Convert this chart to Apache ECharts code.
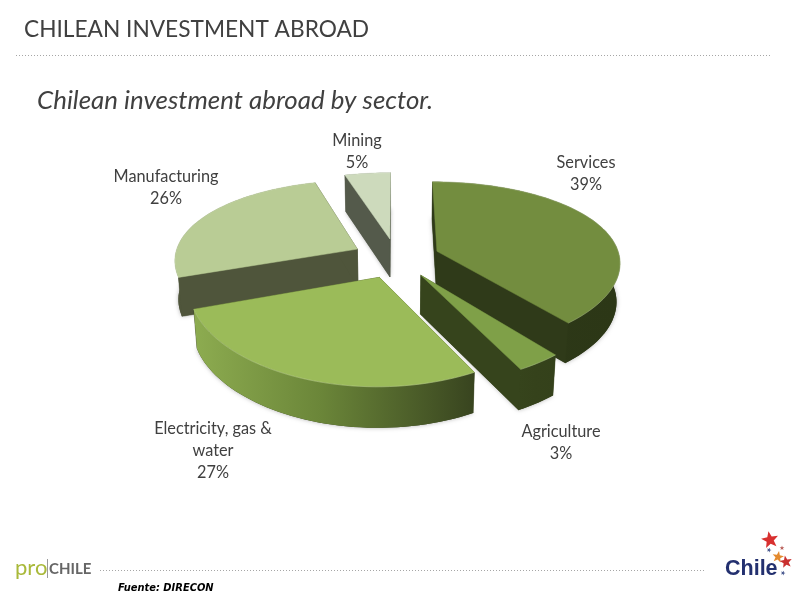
<!DOCTYPE html>
<html>
<head>
<meta charset="utf-8">
<style>html,body{margin:0;padding:0;background:#fff}#c{width:800px;height:600px}</style>
<script src="https://cdn.jsdelivr.net/npm/echarts@6/dist/echarts.min.js"></script>
</head>
<body>
<div id="c"></div>
<script>
// ---- data ----
const categories = ['Services', 'Agriculture', 'Electricity, gas & water', 'Manufacturing', 'Mining'];
const shares = [39.0, 3.4, 27.2, 25.8, 4.6];
const labelLines = ['Services', 'Agriculture', 'Electricity, gas &\nwater', 'Manufacturing', 'Mining'];
const titleText = 'CHILEAN INVESTMENT ABROAD';
const subtitleText = 'Chilean investment abroad by sector.';
const sourceText = 'Fuente: DIRECON';

// ---- styles ----
const topColors = ['#738d3f', '#7fa048', '#9bbb59', '#b9cc95', '#cddabc'];
const faceColors = ['#2f3a19', '#36441c', '#38431f', '#4f553b', '#545a4b'];
const rimColors = [
  ['#2f3a19', '#2d3818', '#2c3716'],
  ['#36441c', '#35421b', '#34411b'],
  ['#8dac50', '#6b8639', '#38441f'],
  ['#4f553b', '#4f553b', '#4f553b'],
  ['#545a4b', '#545a4b', '#545a4b']
];
const labelAnchors = [[586, 174], [561, 443], [213, 451], [166, 188], [357, 152]];

// ---- projection of the tilted pie ----
const cx = 396, cy = 258, R = 183, A = 83.4, P = 0.17, PX = 0.12, PZ = 0.05, DEPTH = 38.5, EXPLODE = 0.24, CONVERGE = 0.016;
const rad = d => d * Math.PI / 180;
function proj(x, y, z) {
  const d = 1 - P * y;
  return [cx + (R * x / (1 - PX * y)) * (1 - CONVERGE * z), cy + A * y / d + DEPTH * z / (1 - PZ * y)];
}
const total = shares.reduce((a, b) => a + b, 0);

function renderSlice(params, api) {
  const i = params.dataIndex, v = api.value(0);
  let before = 0;
  for (let k = 0; k < i; k++) before += shares[k];
  const a0 = before / total * 360, a1 = a0 + v / total * 360, mid = (a0 + a1) / 2;
  const ox = EXPLODE * Math.sin(rad(mid)), oy = -EXPLODE * Math.cos(rad(mid));
  const pt = (deg, z) => proj(ox + Math.sin(rad(deg)), oy - Math.cos(rad(deg)), z);
  const apex = z => proj(ox, oy, z);
  const arcTop = [], arcBot = [];
  const n = Math.max(4, Math.ceil((a1 - a0) / 2));
  for (let k = 0; k <= n; k++) {
    const t = a0 + (a1 - a0) * k / n;
    arcTop.push(pt(t, 0));
    arcBot.push(pt(t, 1));
  }
  const xs = arcTop.concat(arcBot).map(p => p[0]);
  const x0 = Math.min.apply(null, xs), x1 = Math.max.apply(null, xs);
  const z2 = Math.round(oy * 1000);
  const face = (p, q) => ({
    type: 'polygon', z2,
    shape: { points: [apex(0), p, q, apex(1)] },
    style: { fill: faceColors[i], stroke: faceColors[i], lineWidth: 0.5 }
  });
  const children = [
    {
      type: 'polygon', z2: z2 - 1,
      shape: { points: [apex(1)].concat(arcBot) },
      style: { fill: faceColors[i], shadowBlur: 4, shadowColor: 'rgba(0,0,0,0.3)' }
    },
    face(arcTop[0], arcBot[0]),
    face(arcTop[n], arcBot[n]),
    {
      type: 'polygon', z2: z2 + 1,
      shape: { points: arcTop.concat(arcBot.slice().reverse()) },
      style: {
        fill: {
          type: 'linear', x: x0, y: 0, x2: x1, y2: 0, global: true,
          colorStops: [
            { offset: 0, color: rimColors[i][0] },
            { offset: 0.45, color: rimColors[i][1] },
            { offset: 1, color: rimColors[i][2] }
          ]
        }
      }
    },
    {
      type: 'polygon', z2: z2 + 2,
      shape: { points: [apex(0)].concat(arcTop) },
      style: { fill: topColors[i], stroke: topColors[i], lineWidth: 0.5 }
    },
    {
      type: 'polyline', z2: z2 + 3, silent: true,
      shape: { points: arcTop },
      style: { fill: null, stroke: 'rgba(255,255,255,0.18)', lineWidth: 1 }
    },
    {
      type: 'text', z2: 5000,
      style: {
        text: labelLines[i] + '\n' + Math.round(v) + '%',
        x: labelAnchors[i][0], y: labelAnchors[i][1],
        align: 'center', verticalAlign: 'middle',
        font: '16.3px Lato', lineHeight: 22, fill: '#404040'
      }
    }
  ];
  return { type: 'group', children };
}

function starPts(x, y, r, rot) {
  const pts = [];
  for (let k = 0; k < 10; k++) {
    const rr = k % 2 ? r * 0.42 : r, a = rad(rot + k * 36);
    pts.push([x + rr * Math.sin(a), y - rr * Math.cos(a)]);
  }
  return pts;
}
const logoStars = [
  [770, 540, 9, -10, '#d8302f'], [782, 548, 2.5, 0, '#b9605a'], [769, 550, 2.5, 20, '#4a5a90'],
  [778, 557, 6, 10, '#e48a2e'], [786, 562, 6.5, -10, '#c9302f'], [783, 573, 2.5, 20, '#4a5a90']
];
const dotted = (x1, x2, y) => ({
  type: 'line', shape: { x1, y1: y, x2, y2: y },
  style: { stroke: '#a6a6a6', lineWidth: 1, lineDash: [1, 2] }
});
const txt = (text, x, y, font, fill) => ({
  type: 'text', style: { text, x, y, font, fill, align: 'left', verticalAlign: 'middle' }
});

const chart = echarts.init(document.getElementById('c'), null, { renderer: 'canvas', width: 800, height: 600 });
chart.setOption({
  animation: false,
  backgroundColor: '#ffffff',
  graphic: { elements: [
    txt(titleText, 24, 29.5, '22.7px Lato', '#404040'),
    dotted(16, 771, 55.5),
    txt(subtitleText, 37, 101, 'italic 25.9px Lato', '#404040'),
    dotted(100, 706, 570.5),
    txt(sourceText, 118, 588, 'italic bold 11px "DejaVu Sans Condensed", "DejaVu Sans"', '#000000'),
    txt('pro', 15, 568, '22px Lato', '#a9b93a'),
    { type: 'line', shape: { x1: 47.5, y1: 559, x2: 47.5, y2: 578 }, style: { stroke: '#9a9a9a', lineWidth: 1 } },
    txt('CHILE', 49, 569, 'bold 15px Lato', '#666666'),
    txt('Chile', 725, 569, 'bold 21.5px "Liberation Sans"', '#23306f')
  ].concat(logoStars.map(s => ({
    type: 'polygon', shape: { points: starPts(s[0], s[1], s[2], s[3]) }, style: { fill: s[4] }
  }))) },
  series: [{
    type: 'custom',
    coordinateSystem: 'none',
    renderItem: renderSlice,
    data: categories.map((name, i) => ({ name, value: [shares[i]] }))
  }]
});
</script>
</body>
</html>
